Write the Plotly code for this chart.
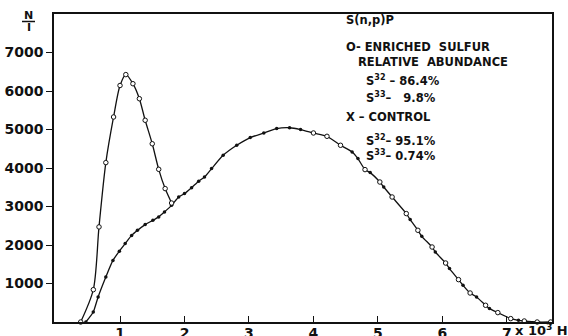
import plotly.graph_objects as go

# ---- data ----
# Enriched sulfur (open circles); first part forms the low-energy peak
enr_x = [0.39, 0.586, 0.674, 0.78, 0.90, 1.00, 1.09, 1.20, 1.30, 1.39, 1.50, 1.60, 1.70, 1.80,
         4.00, 4.21, 4.42, 4.80, 5.03, 5.22, 5.44, 5.62, 5.84, 6.05, 6.25, 6.43, 6.67, 6.86,
         7.06, 7.27, 7.47, 7.68]
enr_y = [0, 840, 2470, 4140, 5325, 6143, 6426, 6190, 5800, 5240, 4630, 3966, 3465, 3090,
         4910, 4823, 4590, 3958, 3636, 3247, 2816, 2382, 1948, 1532, 1101, 753, 434, 244,
         88, 26, 0, 0]
enr_peak_end = 14  # points of the separate peak branch

# Control (filled dots)
ctl_x = [0.47, 0.585, 0.66, 0.78, 0.89, 0.99, 1.08, 1.18, 1.27, 1.39, 1.51, 1.60, 1.69, 1.80,
         1.91, 2.00, 2.11, 2.22, 2.31, 2.42, 2.60, 2.81, 3.02, 3.23, 3.43, 3.63, 3.80,
         4.60, 4.69, 4.88, 5.09, 5.50, 5.68, 5.89, 6.11, 6.32, 6.53, 6.73, 7.18]
ctl_y = [0, 260, 650, 1170, 1600, 1840, 2036, 2250, 2380, 2530, 2640, 2730, 2860, 3030,
         3247, 3335, 3490, 3655, 3766, 3984, 4330, 4590, 4790, 4910, 5023, 5045, 4997,
         4416, 4244, 3880, 3506, 2660, 2226, 1818, 1387, 953, 650, 348, 44]

y_tickvals = [1000, 2000, 3000, 4000, 5000, 6000, 7000]
y_ticktext = ["1000", "2000", "3000", "4000", "5000", "6000", "7000"]
x_tickvals = [1, 2, 3, 4, 5, 6, 7]
x_ticktext = ["1", "2", "3", "4", "5", "6", "7"]

NB = "\u00a0"
legend_lines = [
    ("S(n,p)P", 4.47, 7836),
    ("O-" + NB + "ENRICHED" + NB * 2 + "SULFUR<br>" + NB * 3 + "RELATIVE" + NB * 2 + "ABUNDANCE", 4.47, 6953),
    ("S<sup>32</sup>" + NB + "–" + NB + "86.4%", 4.78, 6278),
    ("S<sup>33</sup>–" + NB * 3 + "9.8%", 4.78, 5836),
    ("X" + NB + "–" + NB + "CONTROL", 4.47, 5317),
    ("S<sup>32</sup>–" + NB + "95.1%", 4.78, 4719),
    ("S<sup>33</sup>–" + NB + "0.74%", 4.78, 4330),
]

FONT = "DejaVu Sans"
INK = "#111111"

# common curve beyond the merge: all points of both series, sorted
common = sorted(list(zip(ctl_x, ctl_y)) + list(zip(enr_x[enr_peak_end:], enr_y[enr_peak_end:])))
common_x = [p[0] for p in common]
common_y = [p[1] for p in common]

fig = go.Figure()

fig.add_trace(go.Scatter(
    x=common_x, y=common_y, mode="lines",
    line=dict(color=INK, width=1.3, shape="spline", smoothing=0.6),
    showlegend=False, cliponaxis=False, hoverinfo="skip"))

fig.add_trace(go.Scatter(
    x=enr_x[:enr_peak_end], y=enr_y[:enr_peak_end], mode="lines",
    line=dict(color=INK, width=1.3, shape="spline", smoothing=0.8),
    showlegend=False, cliponaxis=False, hoverinfo="skip"))

# control markers
fig.add_trace(go.Scatter(
    x=ctl_x, y=ctl_y, mode="markers",
    marker=dict(symbol="circle", size=3.5, color=INK),
    showlegend=False, cliponaxis=False))

# enriched markers
fig.add_trace(go.Scatter(
    x=enr_x, y=enr_y, mode="markers",
    marker=dict(symbol="circle", size=4.5, color="white", line=dict(width=1, color=INK)),
    showlegend=False, cliponaxis=False))

annotations = []
for txt, ax, ay in legend_lines:
    annotations.append(dict(x=ax, y=ay, xref="x", yref="y", text=txt, showarrow=False,
                            xanchor="left", yanchor="middle", align="left",
                            font=dict(family=FONT, size=11.5, color=INK, weight="bold")))

annotations.append(dict(x=(513 - 54) / 498, y=(322 - 330) / 308, xref="paper", yref="paper",
                        text="x" + NB + "10<sup>3</sup>" + NB + "Hρ", showarrow=False, xanchor="left",
                        yanchor="middle", font=dict(family=FONT, size=13, color=INK, weight="bold")))
annotations.append(dict(x=(28.5 - 54) / 498, y=(322 - 15) / 308, xref="paper", yref="paper",
                        text="N", showarrow=False, xanchor="center", yanchor="middle",
                        font=dict(family=FONT, size=11, color=INK, weight="bold")))
annotations.append(dict(x=(28.5 - 54) / 498, y=(322 - 28) / 308, xref="paper", yref="paper",
                        text="I", showarrow=False, xanchor="center", yanchor="middle",
                        font=dict(family=FONT, size=11, color=INK, weight="bold")))

fig.update_layout(
    width=568, height=336,
    margin=dict(l=54, r=16, t=14, b=14, autoexpand=False),
    paper_bgcolor="white", plot_bgcolor="white",
    font=dict(family=FONT, size=14, color=INK),
    annotations=annotations,
    shapes=[dict(type="line", xref="paper", yref="paper",
                 x0=(22 - 54) / 498, x1=(35 - 54) / 498,
                 y0=(322 - 21.5) / 308, y1=(322 - 21.5) / 308,
                 line=dict(color=INK, width=1.5))],
)

fig.update_xaxes(range=[-0.024, 7.70], tickvals=x_tickvals, ticktext=x_ticktext,
                 automargin=False, ticklabelstandoff=-3,
                 showgrid=False, zeroline=False, showline=True, linecolor=INK, linewidth=1.5,
                 mirror=True, ticks="inside", ticklen=6, tickwidth=1.2, tickcolor=INK,
                 tickfont=dict(family=FONT, size=14, color=INK, weight="bold"))
fig.update_yaxes(range=[0, 8000], tickvals=y_tickvals, ticktext=y_ticktext,
                 automargin=False,
                 showgrid=False, zeroline=False, showline=True, linecolor=INK, linewidth=1.5,
                 mirror=True, ticks="outside", ticklen=6, tickwidth=1.2, tickcolor=INK,
                 tickfont=dict(family=FONT, size=14, color=INK, weight="bold"))

fig.write_html("out.html")
